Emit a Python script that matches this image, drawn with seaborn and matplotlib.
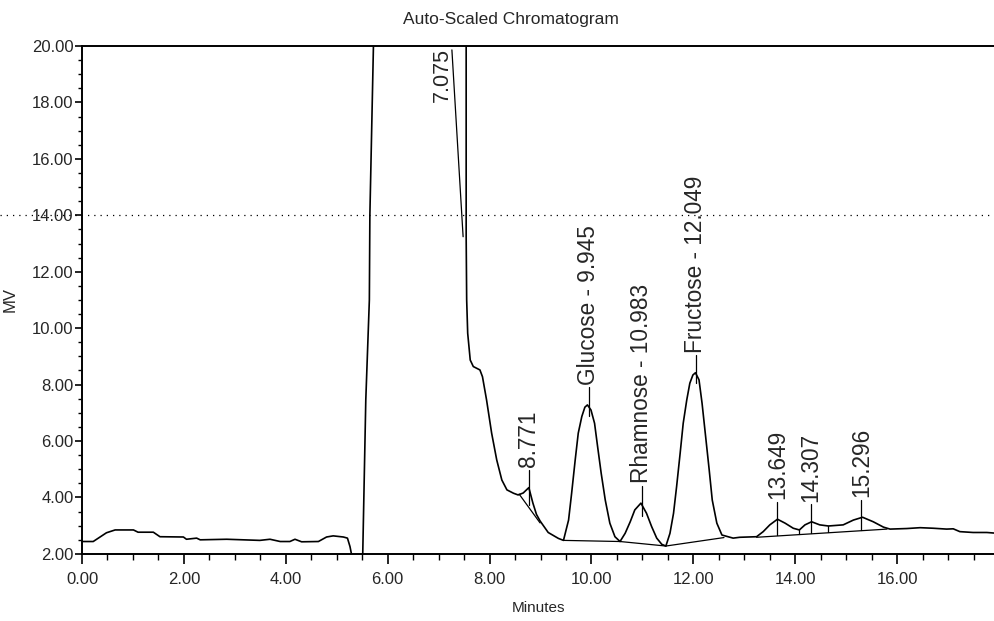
import matplotlib
matplotlib.use("Agg")
import matplotlib.pyplot as plt
import matplotlib.transforms as mtransforms
from matplotlib.ticker import MultipleLocator, FormatStrFormatter
import seaborn as sns
import pandas as pd

# ---------------- data ----------------
time_min = [0.00, 0.22, 0.48, 0.65, 1.01, 1.10, 1.40, 1.53, 1.99, 2.05, 2.25, 2.32,
            2.84, 3.49, 3.69, 3.89, 4.08, 4.18, 4.31, 4.64, 4.80, 4.93, 5.13, 5.21,
            5.26, 5.31, 5.49, 5.51, 5.57, 5.64, 5.65, 5.72, 5.80, 7.075, 7.54, 7.54,
            7.55, 7.57, 7.62, 7.68, 7.81, 7.86, 7.94, 8.04, 8.14, 8.24, 8.34, 8.47,
            8.56, 8.66, 8.77, 8.85, 8.92, 8.99, 9.15, 9.35, 9.45,
            9.55, 9.61, 9.68, 9.74, 9.81, 9.87, 9.92, 9.99, 10.06, 10.12, 10.19,
            10.27, 10.36, 10.46, 10.56,
            10.66, 10.76, 10.85, 10.97, 11.08, 11.18, 11.28, 11.38, 11.46,
            11.54, 11.61, 11.67, 11.74, 11.80, 11.87, 11.93, 11.99, 12.04, 12.11,
            12.17, 12.24, 12.31, 12.37, 12.46, 12.56,
            12.78, 12.91, 13.24, 13.37, 13.50, 13.65, 13.80, 13.96, 14.08,
            14.19, 14.32, 14.48, 14.65, 14.94, 15.14, 15.32, 15.53, 15.73, 15.86,
            16.19, 16.45, 16.71, 16.97, 17.10, 17.23, 17.49, 17.76, 17.90]
signal_mv = [2.44, 2.44, 2.75, 2.85, 2.85, 2.77, 2.77, 2.61, 2.60, 2.52, 2.56, 2.50,
             2.52, 2.48, 2.52, 2.44, 2.44, 2.52, 2.43, 2.44, 2.60, 2.64, 2.60, 2.56,
             2.26, 1.80, 1.80, 2.00, 7.46, 11.00, 14.00, 20.00, 24.00, 30.00, 22.00, 13.24,
             11.00, 9.82, 8.87, 8.64, 8.52, 8.28, 7.46, 6.28, 5.33, 4.62, 4.27, 4.15,
             4.09, 4.16, 4.35, 3.80, 3.40, 3.17, 2.76, 2.55, 2.48,
             3.20, 4.15, 5.33, 6.28, 6.87, 7.20, 7.28, 7.10, 6.63, 5.80, 4.86,
             3.91, 3.09, 2.61, 2.44,
             2.73, 3.14, 3.56, 3.80, 3.44, 2.97, 2.56, 2.34, 2.28,
             2.73, 3.44, 4.38, 5.57, 6.63, 7.46, 8.05, 8.34, 8.42, 8.17,
             7.34, 6.16, 4.98, 3.91, 3.09, 2.67,
             2.56, 2.59, 2.61, 2.79, 3.03, 3.23, 3.09, 2.91, 2.85,
             3.03, 3.14, 3.03, 2.99, 3.03, 3.20, 3.30, 3.14, 2.95, 2.88,
             2.90, 2.93, 2.91, 2.88, 2.89, 2.79, 2.76, 2.76, 2.74]

peak_labels = ["8.771", "Glucose - 9.945", "Rhamnose - 10.983", "Fructose - 12.049",
               "13.649", "14.307", "15.296"]
peak_rt = [8.771, 9.945, 10.983, 12.049, 13.649, 14.307, 15.296]
peak_height = [4.35, 7.28, 3.80, 8.42, 3.23, 3.14, 3.30]
peak_base = [3.75, 6.90, 3.35, 8.05, 2.66, 2.74, 2.86]

offscale_label = "7.075"
offscale_rt = 7.075

# integration baselines (start time, start mV, end time, end mV)
base_t0 = [8.58, 9.45, 10.56, 11.46, 13.24]
base_v0 = [4.12, 2.48, 2.44, 2.28, 2.59]
base_t1 = [8.99, 10.56, 11.46, 12.60, 15.80]
base_v1 = [3.10, 2.44, 2.28, 2.58, 2.88]

valley_t = [14.08, 14.65]
valley_lo = [2.72, 2.78]
valley_hi = [2.88, 3.00]

leader_t = [7.26, 7.48]
leader_v = [19.86, 13.24]

# ---------------- figure ----------------
sns.set_style("ticks")
plt.rcParams["font.family"] = ["Liberation Sans", "DejaVu Sans"]

fig = plt.figure(figsize=(9.94, 6.21), dpi=100)
ax = fig.add_axes([0.0825, 0.108, 0.9175, 0.818])

df = pd.DataFrame({"Minutes": time_min, "MV": signal_mv})
sns.lineplot(data=df, x="Minutes", y="MV", ax=ax, color="black", lw=1.2,
             estimator=None, sort=False)

# integration baselines
for t0, v0, t1, v1 in zip(base_t0, base_v0, base_t1, base_v1):
    ax.plot([t0, t1], [v0, v1], color="black", lw=0.9)
for t, lo, hi in zip(valley_t, valley_lo, valley_hi):
    ax.plot([t, t], [lo, hi], color="black", lw=0.9)
ax.plot(leader_t, leader_v, color="black", lw=0.9)

# peak labels with leader ticks
for lab, t, h, b in zip(peak_labels, peak_rt, peak_height, peak_base):
    ax.plot([t, t], [b, h + 0.62], color="black", lw=0.9)
    ax.annotate(lab, xy=(t, h), xytext=(0, 14.5), textcoords="offset points",
                rotation=90, ha="center", va="bottom", fontsize=16.3)

ax.annotate(offscale_label, xy=(offscale_rt, 20), xytext=(0, -1.5),
            textcoords="offset points", rotation=90, ha="center", va="top",
            fontsize=15.5)

# dotted horizontal scan line at 14 across the whole figure width
trans = mtransforms.blended_transform_factory(fig.transFigure, ax.transData)
ax.plot([0, 1], [14, 14], transform=trans, clip_on=False, color="black",
        lw=0.9, ls=(0, (1, 4)))

ax.set_xlim(0, 17.90)
ax.set_ylim(2, 20)
ax.xaxis.set_major_locator(MultipleLocator(2))
ax.xaxis.set_minor_locator(MultipleLocator(0.5))
ax.yaxis.set_major_locator(MultipleLocator(2))
ax.yaxis.set_minor_locator(MultipleLocator(0.5))
ax.xaxis.set_major_formatter(FormatStrFormatter("%.2f"))
ax.yaxis.set_major_formatter(FormatStrFormatter("%.2f"))
ax.tick_params(axis="x", which="major", direction="out", length=7, width=1.2,
               pad=6, labelsize=12, color="black")
ax.tick_params(axis="x", which="minor", direction="out", length=4, width=1.0,
               color="black")
ax.tick_params(axis="y", which="major", direction="out", length=5, width=1.2,
               pad=1, labelsize=12, color="black")
ax.tick_params(axis="y", which="minor", direction="out", length=3, width=1.0,
               color="black")

for side in ["left", "bottom", "top"]:
    ax.spines[side].set_visible(True)
    ax.spines[side].set_color("black")
    ax.spines[side].set_linewidth(1.4)
ax.spines["right"].set_visible(False)

ax.set_title("Auto-Scaled Chromatogram", fontsize=12.5, pad=16, x=0.47)
ax.set_xlabel("Minutes", fontsize=11, labelpad=10)
ax.set_ylabel("MV", fontsize=12)
ax.yaxis.set_label_coords(-0.071, 0.5)

fig.savefig("out.png", dpi=100)
